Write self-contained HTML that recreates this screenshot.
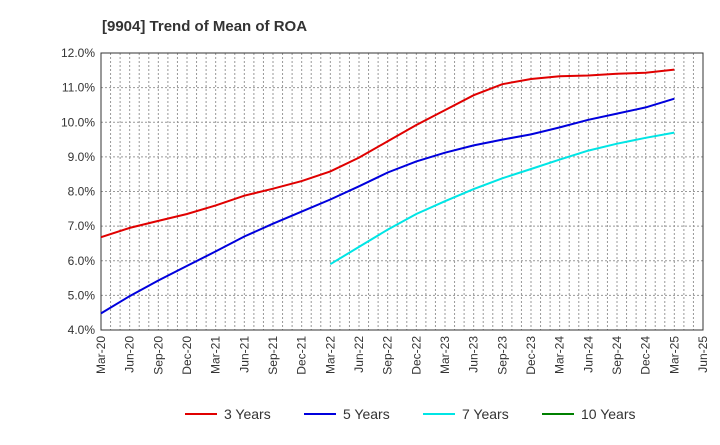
<!DOCTYPE html>
<html><head><meta charset="utf-8"><style>
body{margin:0;background:#fff;font-family:"Liberation Sans",Arial,sans-serif}
</style></head><body>
<svg id="c" width="720" height="440" xmlns="http://www.w3.org/2000/svg" font-family="Liberation Sans, Arial, sans-serif"></svg>
<script>
const xLabels=["Mar-20","Jun-20","Sep-20","Dec-20","Mar-21","Jun-21","Sep-21","Dec-21","Mar-22","Jun-22","Sep-22","Dec-22","Mar-23","Jun-23","Sep-23","Dec-23","Mar-24","Jun-24","Sep-24","Dec-24","Mar-25","Jun-25"];
const yTicks=[4,5,6,7,8,9,10,11,12];
const s3=[6.68,6.95,7.15,7.35,7.6,7.88,8.08,8.3,8.58,8.98,9.45,9.92,10.35,10.78,11.1,11.25,11.33,11.35,11.4,11.43,11.52];
const s5=[4.48,4.98,5.43,5.85,6.27,6.7,7.07,7.42,7.77,8.15,8.55,8.87,9.12,9.33,9.5,9.65,9.85,10.07,10.25,10.43,10.68];
const s7=[5.9,6.4,6.9,7.35,7.72,8.07,8.38,8.65,8.92,9.18,9.38,9.55,9.7];
const s7Start=8;
const s10=[];
const L=101,R=703,T=53,B=330;
const svg=document.getElementById('c');const NS="http://www.w3.org/2000/svg";
function el(t,a,p){const e=document.createElementNS(NS,t);for(const k in a)e.setAttribute(k,a[k]);(p||svg).appendChild(e);return e;}
const nMonths=(xLabels.length-1)*3;
const X=q=>L+(q*3)/nMonths*(R-L);
const Y=v=>B-(v-4)/8*(B-T);
let t=el('text',{x:102,y:31,'font-size':15,'font-weight':'bold',fill:'#333'});t.textContent='[9904]  Trend of Mean of ROA';

for(let m=1;m<nMonths;m++){const x=L+m/nMonths*(R-L);const g=el('line',{x1:x,x2:x,y1:T,y2:B,stroke:'#999','stroke-dasharray':'2,2','stroke-width':1});}
yTicks.forEach(v=>{const y=Y(v);if(v>4&&v<12){const g=el('line',{x1:L,x2:R,y1:y,y2:y,stroke:'#999','stroke-dasharray':'2,2'});}
const tx=el('text',{x:L-6,y:y+4,'text-anchor':'end','font-size':12,fill:'#333'});tx.textContent=v.toFixed(1)+'%';});
xLabels.forEach((lb,i)=>{const x=X(i);const tx=el('text',{transform:`translate(${x+4},${B+6}) rotate(-90)`,'text-anchor':'end','font-size':12,fill:'#333'});tx.textContent=lb;});
const fr=el('rect',{x:L,y:T,width:R-L,height:B-T,fill:'none',stroke:'#333'});
function line(data,start,color,name){const d=data.map((v,i)=>(i?'L':'M')+X(i+start).toFixed(1)+','+Y(v).toFixed(1)).join('');const p=el('path',{d:d,fill:'none',stroke:color,'stroke-width':2});}
line(s3,0,'#e00000','line-3-years');line(s5,0,'#0000dd','line-5-years');line(s7,s7Start,'#00e5e5','line-7-years');if(s10.length)line(s10,0,'#008000','line-10-years');
[['3 Years','#e00000',185],['5 Years','#0000dd',304],['7 Years','#00e5e5',423],['10 Years','#008000',542]].forEach(([n,c,x])=>{const g=el('g',{});el('line',{x1:x,x2:x+32,y1:414,y2:414,stroke:c,'stroke-width':2},g);const tx=el('text',{x:x+39,y:419,'font-size':14,fill:'#333'},g);tx.textContent=n;});
</script>
</body></html>
